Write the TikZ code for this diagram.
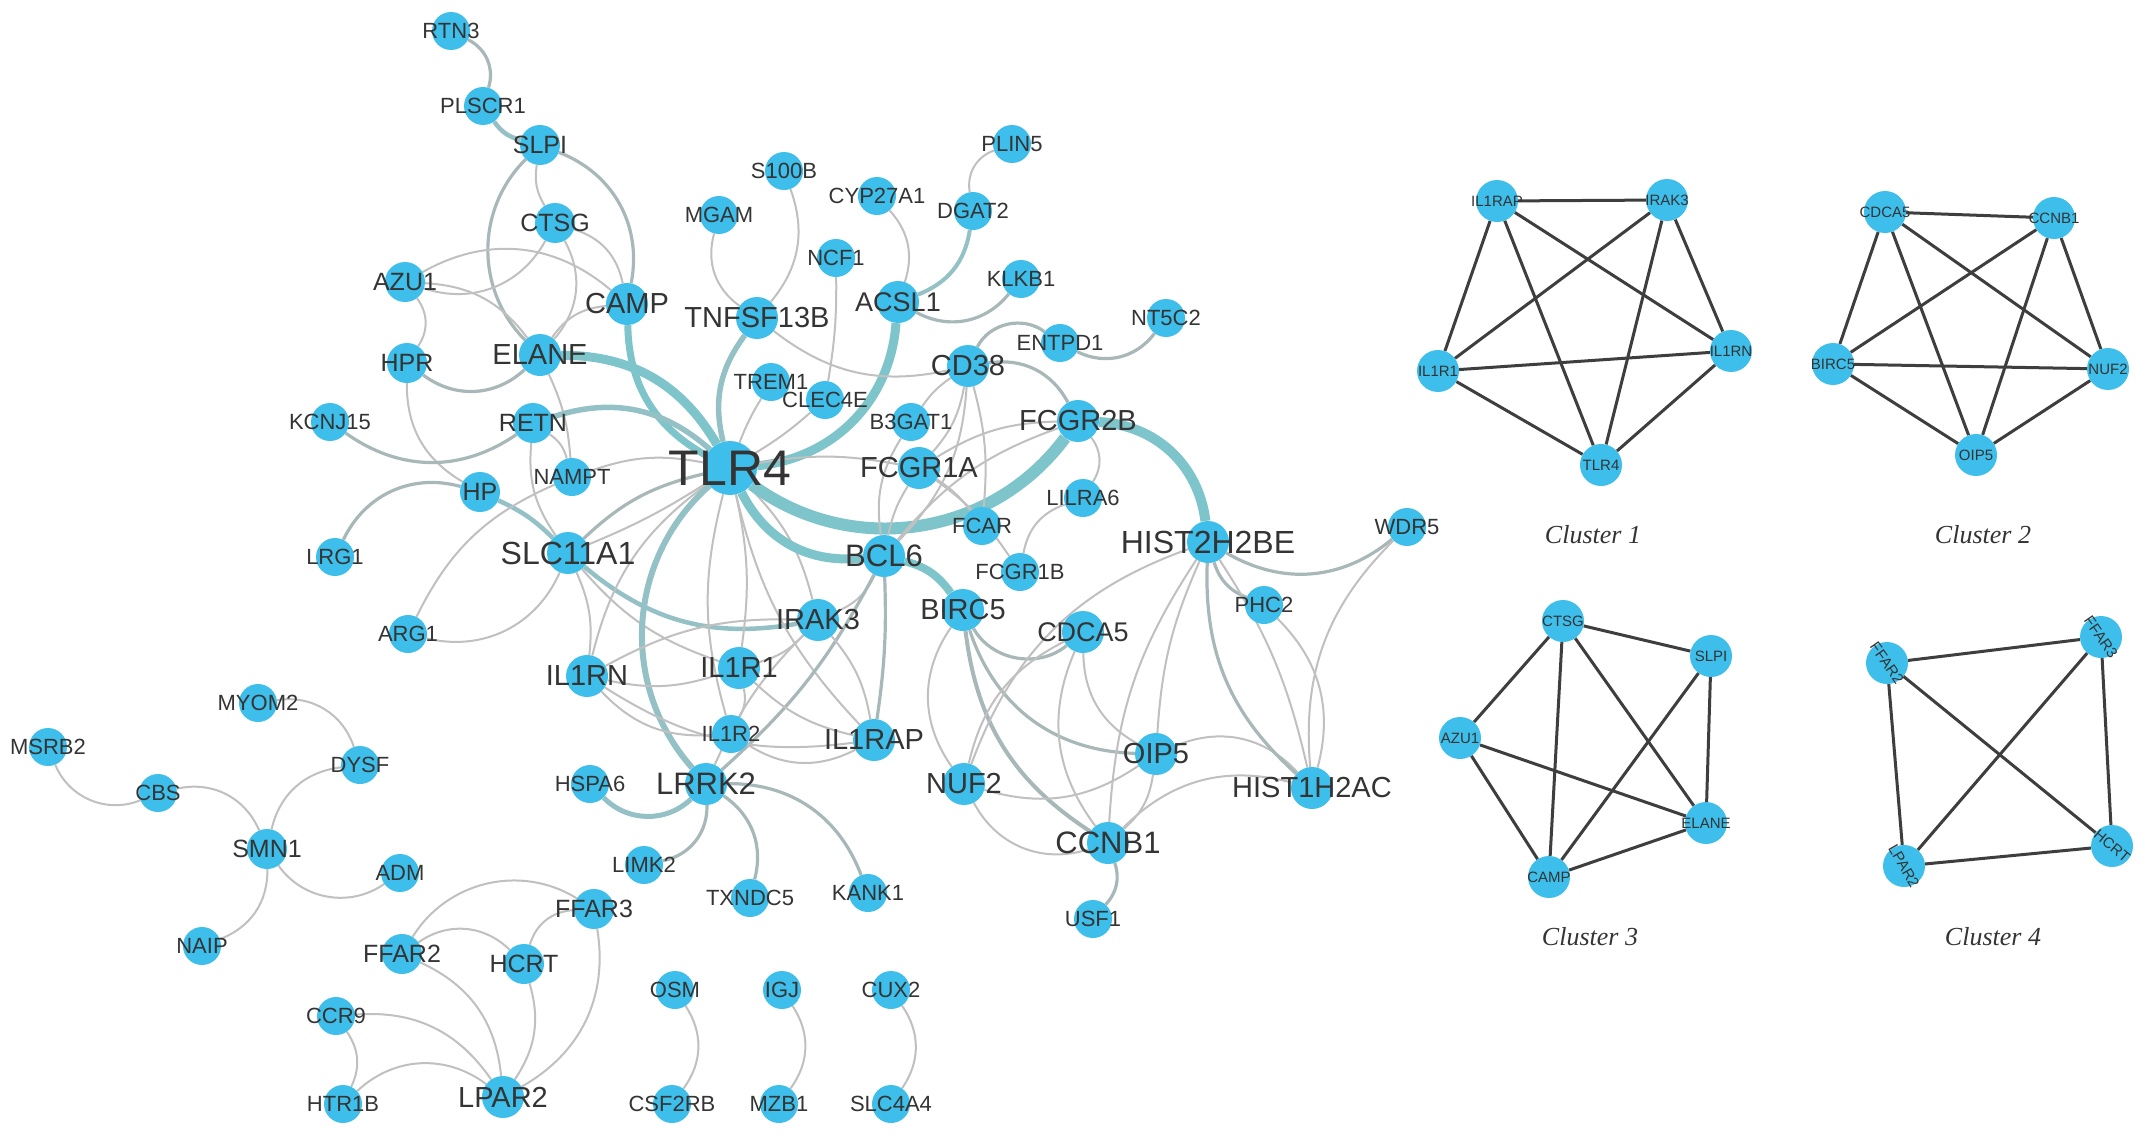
\documentclass[tikz,border=0pt]{standalone}
\usepackage{fontspec}
\setmainfont{Liberation Sans}
\newfontfamily\tms{Liberation Serif}
\pgfdeclarelayer{bg}
\pgfdeclarelayer{fg}
\pgfsetlayers{bg,main,fg}
\definecolor{nodeblue}{RGB}{62,190,234}
\definecolor{lblc}{RGB}{52,52,52}
\definecolor{eg0}{RGB}{192,192,192}
\definecolor{eg1}{RGB}{168,184,185}
\definecolor{eg2}{RGB}{148,193,197}
\definecolor{eg3}{RGB}{126,196,203}
\definecolor{cedge}{RGB}{62,62,62}
\tikzset{
  nd/.style={circle,fill=nodeblue,draw=none,inner sep=0pt},
  lbl/.style={text=lblc,inner sep=0pt},
  e0/.style={draw=eg0,line width=2},
  e1/.style={draw=eg1,line width=3.2},
  e2/.style={draw=eg2,line width=5.5},
  e3/.style={draw=eg3,line width=9},
  ce/.style={draw=cedge,line width=3},
  clab/.style={text=lblc,font=\tms\itshape\fontsize{26}{26}\selectfont}
}
\newcommand\mkn[5]{\node[nd,minimum size=#4] (#1) at (#2) {};
  \begin{pgfonlayer}{fg}\node[lbl,font=\fontsize{#5}{#5}\selectfont] at (#1) {#3};\end{pgfonlayer}}
\newcommand\mkc[4]{\node[nd,minimum size=42] (#1) at (#2) {};
  \begin{pgfonlayer}{fg}\node[lbl,font=\fontsize{15}{15}\selectfont,rotate=#4] at (#1) {#3};\end{pgfonlayer}}
\begin{document}
\begin{tikzpicture}[x=1pt,y=-1pt]
\begin{pgfonlayer}{bg}
\fill[white] (0,0) rectangle (2150,1140);
\end{pgfonlayer}
\useasboundingbox (0,0) rectangle (2150,1140);
% ---------- main network nodes ----------
\mkn{rtn3}{451,31}{RTN3}{38}{22}
\mkn{plscr1}{483,106}{PLSCR1}{38}{22}
\mkn{slpi}{540,145}{SLPI}{40}{25}
\mkn{ctsg}{555,223}{CTSG}{40}{25}
\mkn{azu1}{405,282}{AZU1}{40}{25}
\mkn{camp}{627,304}{CAMP}{42}{29}
\mkn{elane}{540,355}{ELANE}{42}{29}
\mkn{hpr}{407,363}{HPR}{40}{25}
\mkn{s100b}{784,171}{S100B}{38}{22}
\mkn{mgam}{719,215}{MGAM}{38}{22}
\mkn{cyp}{877,196}{CYP27A1}{38}{22}
\mkn{plin5}{1012,144}{PLIN5}{38}{22}
\mkn{dgat2}{973,211}{DGAT2}{38}{22}
\mkn{ncf1}{836,258}{NCF1}{38}{22}
\mkn{klkb1}{1021,279}{KLKB1}{38}{22}
\mkn{acsl1}{898,302}{ACSL1}{42}{27}
\mkn{tnf}{757,318}{TNFSF13B}{42}{29}
\mkn{nt5c2}{1166,318}{NT5C2}{38}{22}
\mkn{entpd1}{1060,343}{ENTPD1}{38}{22}
\mkn{cd38}{968,366}{CD38}{42}{29}
\mkn{trem1}{771,382}{TREM1}{38}{22}
\mkn{clec4e}{825,400}{CLEC4E}{38}{22}
\mkn{b3gat1}{911,422}{B3GAT1}{38}{22}
\mkn{fcgr2b}{1078,421}{FCGR2B}{42}{29}
\mkn{kcnj15}{330,422}{KCNJ15}{38}{22}
\mkn{retn}{533,423}{RETN}{40}{25}
\mkn{nampt}{572,477}{NAMPT}{38}{22}
\mkn{tlr4}{730,468}{TLR4}{54}{50}
\mkn{fcgr1a}{919,468}{FCGR1A}{42}{29}
\mkn{hp}{480,492}{HP}{40}{25}
\mkn{lilra6}{1083,498}{LILRA6}{38}{22}
\mkn{fcar}{982,526}{FCAR}{38}{22}
\mkn{h2b}{1208,542}{HIST2H2BE}{42}{32}
\mkn{wdr5}{1407,527}{WDR5}{38}{22}
\mkn{slc11}{568,553}{SLC11A1}{42}{32}
\mkn{lrg1}{335,557}{LRG1}{38}{22}
\mkn{bcl6}{884,556}{BCL6}{42}{31}
\mkn{fcgr1b}{1020,572}{FCGR1B}{38}{22}
\mkn{phc2}{1264,605}{PHC2}{38}{22}
\mkn{birc5}{963,610}{BIRC5}{42}{29}
\mkn{irak3}{818,620}{IRAK3}{42}{29}
\mkn{arg1}{408,634}{ARG1}{38}{22}
\mkn{cdca5}{1083,632}{CDCA5}{42}{27}
\mkn{il1rn}{587,676}{IL1RN}{42}{29}
\mkn{il1r1}{739,668}{IL1R1}{42}{29}
\mkn{il1r2}{731,734}{IL1R2}{38}{22}
\mkn{il1rap}{874,740}{IL1RAP}{42}{29}
\mkn{oip5}{1156,754}{OIP5}{42}{29}
\mkn{myom2}{258,703}{MYOM2}{38}{22}
\mkn{msrb2}{48,747}{MSRB2}{38}{22}
\mkn{dysf}{360,765}{DYSF}{38}{22}
\mkn{cbs}{158,793}{CBS}{38}{22}
\mkn{hspa6}{590,784}{HSPA6}{38}{22}
\mkn{lrrk2}{706,784}{LRRK2}{42}{31}
\mkn{nuf2}{964,784}{NUF2}{42}{29}
\mkn{h1h2}{1312,788}{HIST1H2AC}{42}{29}
\mkn{ccnb1}{1108,843}{CCNB1}{42}{31}
\mkn{smn1}{267,849}{SMN1}{40}{25}
\mkn{adm}{400,873}{ADM}{38}{22}
\mkn{limk2}{644,865}{LIMK2}{38}{22}
\mkn{txndc5}{750,898}{TXNDC5}{38}{22}
\mkn{kank1}{868,893}{KANK1}{38}{22}
\mkn{usf1}{1093,919}{USF1}{38}{22}
\mkn{ffar3}{594,909}{FFAR3}{40}{25}
\mkn{naip}{202,946}{NAIP}{38}{22}
\mkn{ffar2}{402,954}{FFAR2}{40}{25}
\mkn{hcrt}{524,964}{HCRT}{40}{25}
\mkn{osm}{675,990}{OSM}{38}{22}
\mkn{igj}{782,990}{IGJ}{38}{22}
\mkn{cux2}{891,990}{CUX2}{38}{22}
\mkn{ccr9}{336,1016}{CCR9}{38}{22}
\mkn{htr1b}{343,1104}{HTR1B}{38}{22}
\mkn{lpar2}{503,1097}{LPAR2}{42}{29}
\mkn{csf2rb}{672,1104}{CSF2RB}{38}{22}
\mkn{mzb1}{779,1104}{MZB1}{38}{22}
\mkn{slc4a4}{891,1104}{SLC4A4}{38}{22}
% ---------- cluster nodes ----------
\mkc{arap}{1497,201}{IL1RAP}{0}
\mkc{airak}{1667,200}{IRAK3}{0}
\mkc{airn}{1731,351}{IL1RN}{0}
\mkc{air1}{1438,371}{IL1R1}{0}
\mkc{atlr}{1601,465}{TLR4}{0}
\mkc{bcdc}{1885,212}{CDCA5}{0}
\mkc{bccn}{2054,218}{CCNB1}{0}
\mkc{bbir}{1833,364}{BIRC5}{0}
\mkc{bnuf}{2108,369}{NUF2}{0}
\mkc{boip}{1976,455}{OIP5}{0}
\mkc{cctsg}{1563,621}{CTSG}{0}
\mkc{cslpi}{1711,656}{SLPI}{0}
\mkc{cazu}{1460,738}{AZU1}{0}
\mkc{celane}{1706,823}{ELANE}{0}
\mkc{ccamp}{1549,877}{CAMP}{0}
\mkc{dff2}{1887,663}{FFAR2}{-55}
\mkc{dff3}{2101,637}{FFAR3}{-55}
\mkc{dhcrt}{2112,846}{HCRT}{-40}
\mkc{dlpar}{1904,866}{LPAR2}{-60}
\node[clab] (cl1) at (1593,535) {Cluster 1};
\node[clab] (cl2) at (1983,535) {Cluster 2};
\node[clab] (cl3) at (1590,937) {Cluster 3};
\node[clab] (cl4) at (1993,937) {Cluster 4};
% ---------- edges ----------
\begin{pgfonlayer}{bg}
\draw[e1,bend left=40] (rtn3) to (plscr1);
\draw[e2,line width=4.5,bend right=20] (plscr1) to (slpi);
\draw[e1,bend left=40] (slpi) to (camp);
\draw[e0,bend right=20] (slpi) to (ctsg);
\draw[e1,bend right=45] (slpi) to (elane);
\draw[e0,bend left=35] (ctsg) to (elane);
\draw[e0,bend left=40] (ctsg) to (azu1);
\draw[e0,bend left=30] (ctsg) to (camp);
\draw[e0,bend left=35] (azu1) to (camp);
\draw[e0,bend left=25] (azu1) to (elane);
\draw[e0,bend left=35] (azu1) to (hpr);
\draw[e1,bend right=40] (hpr) to (elane);
\draw[e0,bend left=25] (elane) to (camp);
\draw[e3,bend left=30] (elane) to (tlr4);
\draw[e3,line width=7,bend right=30] (camp) to (tlr4);
\draw[e0,bend left=10] (elane) to (nampt);
\draw[e0,bend right=30] (hpr) to (hp);
\draw[e1,bend right=35] (kcnj15) to (retn);
\draw[e2,bend left=30] (retn) to (tlr4);
\draw[e1,bend right=40] (hp) to (lrg1);
\draw[e2,line width=4.5,bend left=10] (hp) to (slc11);
\draw[e0,bend left=20] (arg1) to (nampt);
\draw[e0,bend right=40] (arg1) to (slc11);
\draw[e0,bend left=15] (nampt) to (tlr4);
\draw[e0,bend left=20] (retn) to (nampt);
\draw[e0,bend right=20] (retn) to (slc11);
\draw[e1,bend left=15] (slc11) to (tlr4);
\draw[e0,bend right=5] (slc11) to (tlr4);
\draw[e2,line width=4.5,bend right=25] (slc11) to (irak3);
\draw[e0,bend left=15] (slc11) to (il1rn);
\draw[e0,bend right=15] (slc11) to (il1r1);
\draw[e0,bend right=20] (tlr4) to (il1rn);
\draw[e0,bend left=10] (tlr4) to (il1r1);
\draw[e0,bend left=15] (tlr4) to (irak3);
\draw[e0,bend right=15] (tlr4) to (il1rap);
\draw[e0,bend right=15] (tlr4) to (il1r2);
\draw[e2,line width=6,bend right=45] (tlr4) to (lrrk2);
\draw[e3,bend right=35] (tlr4) to (bcl6);
\draw[e3,line width=12,bend right=45] (tlr4) to (fcgr2b);
\draw[e3,bend right=40] (tlr4) to (acsl1);
\draw[e2,bend left=25] (tlr4) to (tnf);
\draw[e0,bend left=5] (tlr4) to (trem1);
\draw[e0,bend right=5] (tlr4) to (clec4e);
\draw[e0,bend left=10] (tlr4) to (fcgr1a);
\draw[e0,bend right=35] (mgam) to (tnf);
\draw[e0,bend left=30] (s100b) to (tnf);
\draw[e0,bend right=25] (tnf) to (cd38);
\draw[e0,bend left=5] (ncf1) to (clec4e);
\draw[e0,bend left=30] (cyp) to (acsl1);
\draw[e2,line width=4,bend left=30] (dgat2) to (acsl1);
\draw[e0,bend right=40] (plin5) to (dgat2);
\draw[e1,bend right=40] (acsl1) to (klkb1);
\draw[e1,bend left=50] (cd38) to (entpd1);
\draw[e1,bend right=40] (entpd1) to (nt5c2);
\draw[e1,bend left=35] (cd38) to (fcgr2b);
\draw[e0,bend right=10] (cd38) to (b3gat1);
\draw[e0,bend left=15] (cd38) to (fcgr1a);
\draw[e0,bend left=10] (cd38) to (fcar);
\draw[e0,bend left=20] (cd38) to (bcl6);
\draw[e0,bend right=20] (b3gat1) to (bcl6);
\draw[e0,bend right=10] (fcgr1a) to (bcl6);
\draw[e0,bend left=10] (fcgr1a) to (fcar);
\draw[e0,bend left=10] (fcgr1a) to (fcgr1b);
\draw[e0,bend right=15] (fcgr2b) to (bcl6);
\draw[e0,bend right=15] (fcgr2b) to (fcgr1a);
\draw[e0,bend left=35] (fcgr2b) to (lilra6);
\draw[e0,bend right=30] (lilra6) to (fcgr1b);
\draw[e3,line width=10,bend left=40] (fcgr2b) to (h2b);
\draw[e3,line width=8,bend left=20] (bcl6) to (birc5);
\draw[e0,bend right=20] (irak3) to (bcl6);
\draw[e1,bend left=10] (bcl6) to (lrrk2);
\draw[e1,bend left=5] (bcl6) to (il1rap);
\draw[e1,bend right=50] (birc5) to (cdca5);
\draw[e0,bend right=35] (birc5) to (nuf2);
\draw[e1,line width=4,bend right=25] (birc5) to (ccnb1);
\draw[e1,bend right=35] (birc5) to (oip5);
\draw[e0,bend right=25] (cdca5) to (nuf2);
\draw[e0,bend right=30] (cdca5) to (ccnb1);
\draw[e0,bend right=30] (cdca5) to (oip5);
\draw[e0,bend right=25] (h2b) to (nuf2);
\draw[e0,bend right=15] (h2b) to (ccnb1);
\draw[e0,bend right=10] (h2b) to (oip5);
\draw[e0,bend right=40] (nuf2) to (ccnb1);
\draw[e0,bend right=25] (nuf2) to (oip5);
\draw[e0,bend left=20] (oip5) to (ccnb1);
\draw[e0,bend left=35] (oip5) to (h1h2);
\draw[e0,bend left=30] (ccnb1) to (h1h2);
\draw[e1,bend left=30] (ccnb1) to (usf1);
\draw[e1,bend right=35] (h2b) to (wdr5);
\draw[e1,bend right=25] (h2b) to (phc2);
\draw[e1,bend right=25] (h2b) to (h1h2);
\draw[e0,bend left=10] (h2b) to (h1h2);
\draw[e0,bend right=25] (wdr5) to (h1h2);
\draw[e0,bend left=30] (phc2) to (h1h2);
\draw[e0,bend right=15] (il1rn) to (il1r1);
\draw[e0,bend left=15] (il1rn) to (irak3);
\draw[e0,bend right=20] (il1rn) to (il1rap);
\draw[e0,bend right=25] (il1rn) to (il1r2);
\draw[e0,bend right=15] (il1r1) to (irak3);
\draw[e0,bend right=15] (il1r1) to (il1rap);
\draw[e0,bend left=20] (il1r1) to (il1r2);
\draw[e0,bend left=15] (irak3) to (il1rap);
\draw[e0,bend right=30] (il1r2) to (il1rap);
\draw[e0,bend left=10] (lrrk2) to (irak3);
\draw[e2,line width=5,bend left=45] (lrrk2) to (hspa6);
\draw[e1,bend left=40] (lrrk2) to (limk2);
\draw[e1,bend left=35] (lrrk2) to (txndc5);
\draw[e1,bend left=35] (lrrk2) to (kank1);
\draw[e0,bend left=40] (myom2) to (dysf);
\draw[e0,bend right=35] (dysf) to (smn1);
\draw[e0,bend right=45] (msrb2) to (cbs);
\draw[e0,bend left=40] (cbs) to (smn1);
\draw[e0,bend right=45] (smn1) to (adm);
\draw[e0,bend left=35] (smn1) to (naip);
\draw[e0,bend left=45] (ffar2) to (ffar3);
\draw[e0,bend left=40] (ffar2) to (hcrt);
\draw[e0,bend right=35] (ffar3) to (hcrt);
\draw[e0,bend left=35] (ffar3) to (lpar2);
\draw[e0,bend left=25] (hcrt) to (lpar2);
\draw[e0,bend left=30] (ffar2) to (lpar2);
\draw[e0,bend left=30] (ccr9) to (lpar2);
\draw[e0,bend left=30] (ccr9) to (htr1b);
\draw[e0,bend left=40] (htr1b) to (lpar2);
\draw[e0,bend left=35] (osm) to (csf2rb);
\draw[e0,bend left=35] (igj) to (mzb1);
\draw[e0,bend left=35] (cux2) to (slc4a4);
% cluster edges
\draw[ce] (arap) -- (airak); \draw[ce] (arap) -- (air1); \draw[ce] (arap) -- (atlr);
\draw[ce] (arap) -- (airn); \draw[ce] (airak) -- (air1); \draw[ce] (airak) -- (atlr);
\draw[ce] (airak) -- (airn); \draw[ce] (air1) -- (airn); \draw[ce] (air1) -- (atlr);
\draw[ce] (airn) -- (atlr);
\draw[ce] (bcdc) -- (bccn); \draw[ce] (bcdc) -- (bbir); \draw[ce] (bcdc) -- (boip);
\draw[ce] (bcdc) -- (bnuf); \draw[ce] (bccn) -- (bbir); \draw[ce] (bccn) -- (boip);
\draw[ce] (bccn) -- (bnuf); \draw[ce] (bbir) -- (bnuf); \draw[ce] (bbir) -- (boip);
\draw[ce] (bnuf) -- (boip);
\draw[ce] (cctsg) -- (cslpi); \draw[ce] (cctsg) -- (cazu); \draw[ce] (cctsg) -- (ccamp);
\draw[ce] (cctsg) -- (celane); \draw[ce] (cslpi) -- (ccamp); \draw[ce] (cslpi) -- (celane);
\draw[ce] (cazu) -- (celane); \draw[ce] (cazu) -- (ccamp); \draw[ce] (ccamp) -- (celane);
\draw[ce] (dff2) -- (dff3); \draw[ce] (dff2) -- (dlpar); \draw[ce] (dff2) -- (dhcrt);
\draw[ce] (dff3) -- (dlpar); \draw[ce] (dff3) -- (dhcrt); \draw[ce] (dlpar) -- (dhcrt);
\end{pgfonlayer}
\end{tikzpicture}
\end{document}
